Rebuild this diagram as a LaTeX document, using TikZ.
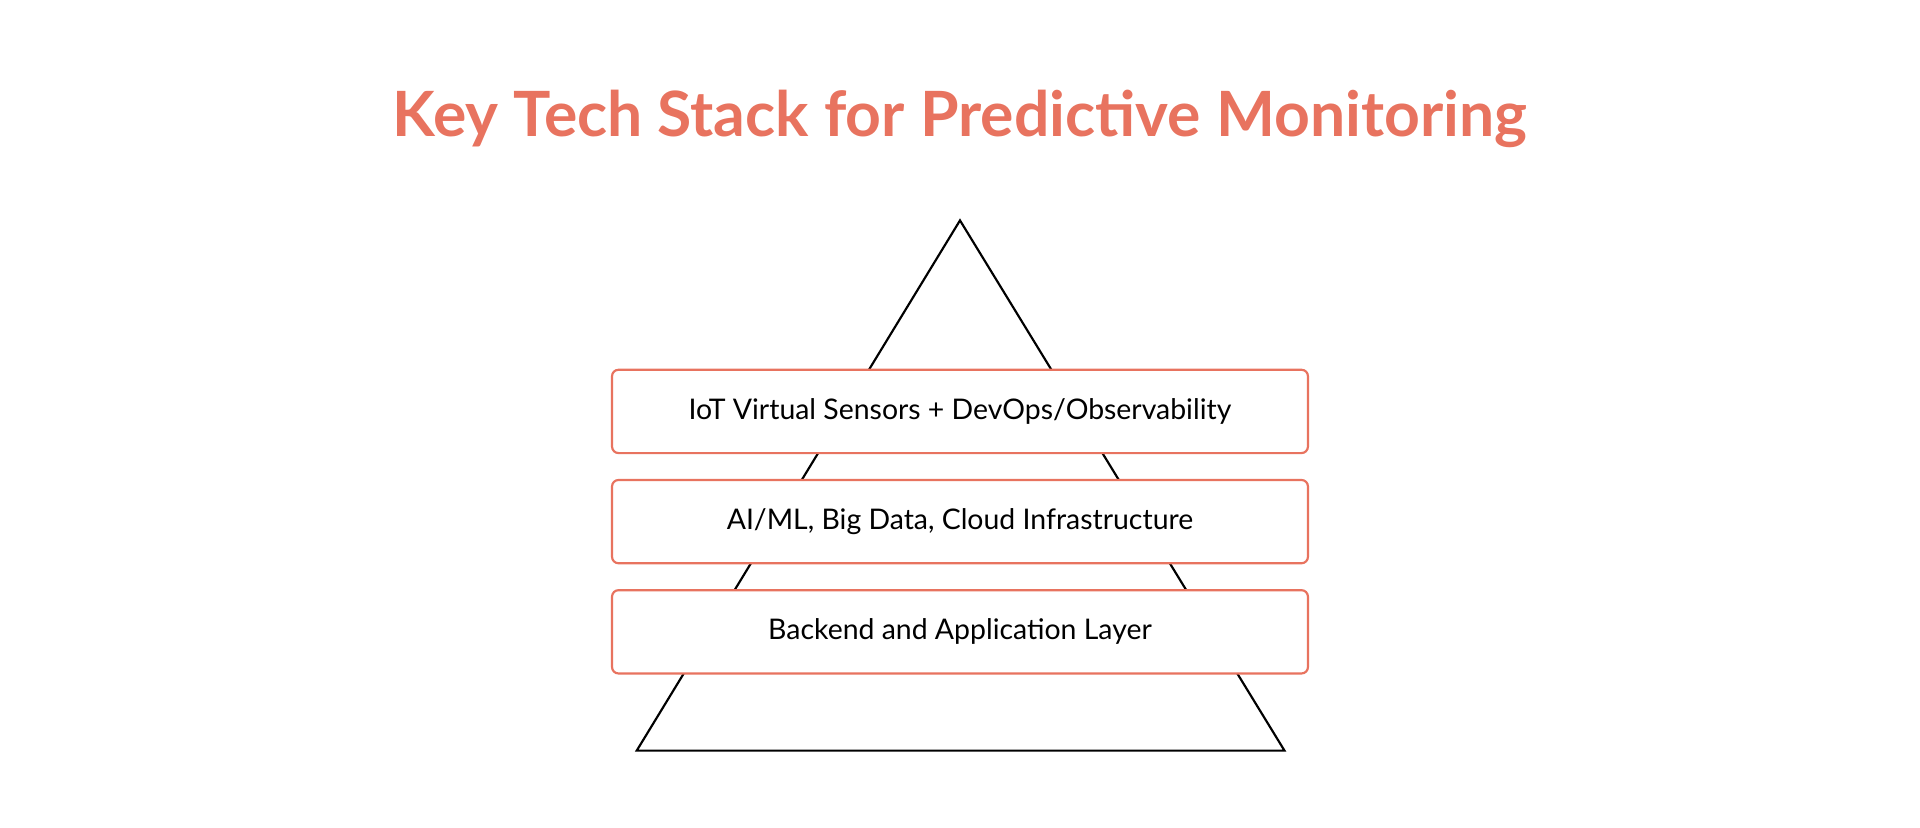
\documentclass[tikz,border=0pt]{standalone}
\usepackage{fontspec}
\setmainfont{Lato}
\definecolor{accent}{HTML}{E8735F}
\tikzset{
  layerbox/.style={draw=accent, fill=white, rounded corners=1.5pt, line width=0.5pt,
    minimum width=5.68cm, minimum height=0.68cm, font=\fontsize{6.6}{8}\selectfont}
}
\begin{document}
\begin{tikzpicture}[x=0.01cm,y=-0.01cm]
\useasboundingbox (0,0) rectangle (1568,676);
\node[text=accent, font=\fontsize{14.5}{17}\selectfont\bfseries] (title) at (784,97) {Key Tech Stack for Predictive Monitoring};
\draw[line width=0.5pt] (784,180) -- (1049,613) -- (520,613) -- cycle;
\node[layerbox] (top) at (784,336) {IoT Virtual Sensors + DevOps/Observability};
\node[layerbox] (mid) at (784,426) {AI/ML, Big Data, Cloud Infrastructure};
\node[layerbox] (base) at (784,516) {Backend and Application Layer};
\end{tikzpicture}
\end{document}
